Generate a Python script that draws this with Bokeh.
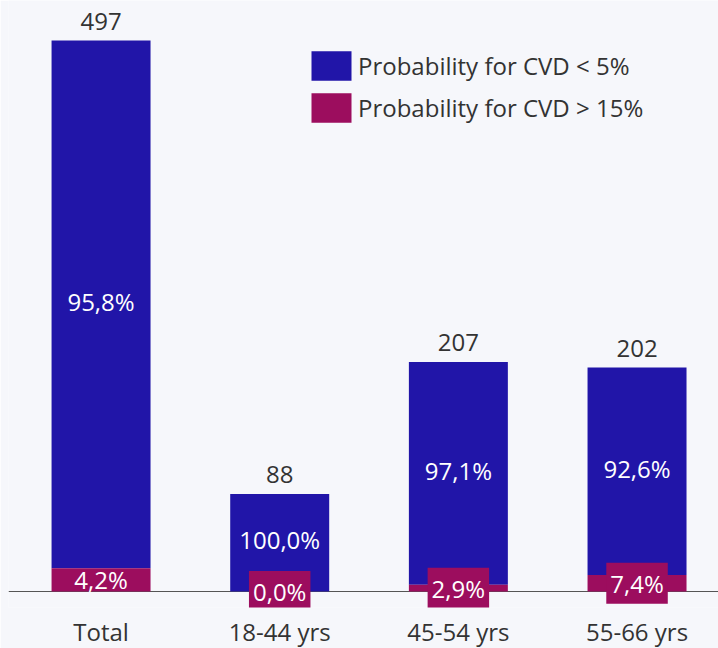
from bokeh.plotting import figure
from bokeh.models import (ColumnDataSource, Range1d, FixedTicker, Legend, LegendItem,
                          LabelSet, Span)
from bokeh.core.properties import value
from bokeh.embed import file_html
from bokeh.resources import INLINE

categories = ["Total", "18-44 yrs", "45-54 yrs", "55-66 yrs"]
counts = [497, 88, 207, 202]
pct_low = [95.8, 100.0, 97.1, 92.6]    # Probability for CVD < 5%
pct_high = [4.2, 0.0, 2.9, 7.4]        # Probability for CVD > 15%

BLUE = "#2115a8"
MAGENTA = "#9c0d5e"
BG = "#f6f7fb"
TXT = "#333333"
FONT = "Open Sans"

Y_MIN, Y_MAX, FRAME_H = -14.43, 533.1, 607
px_per_unit = FRAME_H / (Y_MAX - Y_MIN)

xs = list(range(len(categories)))
high_h = [n * h / 100 for n, h in zip(counts, pct_high)]
# a label box is only shown when the label does not fit inside its segment
box_alpha = [0.0 if h * px_per_unit >= 22 else 1.0 for h in high_h]
src = ColumnDataSource(dict(
    x=xs,
    n=counts,
    hi=high_h,
    hi_mid=[h / 2 for h in high_h],
    lo_mid=[(h + n) / 2 for h, n in zip(high_h, counts)],
    n_lbl=[str(n) for n in counts],
    lo_lbl=[f"{v:.1f}%".replace(".", ",") for v in pct_low],
    hi_lbl=[f"{v:.1f}%".replace(".", ",") for v in pct_high],
    box_alpha=box_alpha,
))

p = figure(frame_width=710, frame_height=FRAME_H, output_backend="svg", toolbar_location=None,
           x_range=Range1d(-0.518, 3.456), y_range=Range1d(Y_MIN, Y_MAX),
           min_border_left=8, min_border_right=0, min_border_top=0, min_border_bottom=0,
           y_axis_location=None, background_fill_color=BG, border_fill_color=BG,
           outline_line_color=None)
p.xgrid.visible = False
p.ygrid.visible = False

base = Span(location=0, dimension="width", line_color="#555555", line_width=1, level="underlay")
p.add_layout(base)

W = 0.554
r_lo = p.vbar(x="x", bottom="hi", top="n", width=W, source=src, fill_color=BLUE, line_color=None)
r_hi = p.vbar(x="x", bottom=0, top="hi", width=W, source=src, fill_color=MAGENTA, line_color=None)

counts_lbl = LabelSet(x="x", y="n", text="n_lbl", source=src, text_align="center",
                      text_baseline="alphabetic", y_offset=11, text_font=value(FONT),
                      text_font_size="24px", text_color=TXT)
p.add_layout(counts_lbl)
lo_lbl = LabelSet(x="x", y="lo_mid", text="lo_lbl", source=src, text_align="center",
                  text_baseline="middle", y_offset=3, text_font=value(FONT),
                  text_font_size="24px", text_color="white")
p.add_layout(lo_lbl)
p.text(x="x", y="hi_mid", text="hi_lbl", source=src, text_align="center", text_baseline="middle",
       text_font=value(FONT), text_font_size="24px", text_color="white",
       background_fill_color=MAGENTA, background_fill_alpha="box_alpha", padding=4)

ax = p.xaxis[0]
ax.ticker = FixedTicker(ticks=xs)
ax.major_label_overrides = {i: c for i, c in enumerate(categories)}
ax.major_tick_line_color = None
ax.major_tick_out = 0
ax.major_tick_in = 0
ax.minor_tick_line_color = None
ax.axis_line_color = None
ax.major_label_standoff = 7
ax.major_label_text_font = FONT
ax.major_label_text_font_size = "24px"
ax.major_label_text_color = TXT

legend = Legend(items=[LegendItem(label="Probability for CVD < 5%", renderers=[r_lo]),
                       LegendItem(label="Probability for CVD > 15%", renderers=[r_hi])],
                location=(298, 481), padding=0, margin=0, spacing=5,
                glyph_width=50, glyph_height=37, label_standoff=2,
                label_text_font=FONT, label_text_font_size="24px", label_text_color=TXT,
                background_fill_alpha=0, border_line_color=None)
p.add_layout(legend, "center")

open("out.html", "w").write(file_html(p, INLINE))
